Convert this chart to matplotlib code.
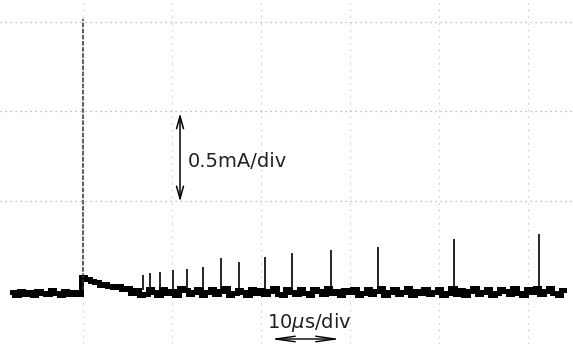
import numpy as np
import matplotlib.pyplot as plt

# scope trace, sampled every 0.5 us starting at -8 us (mA)
t_start = -8.0
t_step = 0.5
trace_pre = [-0.012, -0.026, -0.004, -0.02, -0.01, -0.028, -0.006, -0.018,
             -0.024, -0.002, -0.016, -0.03, -0.008, -0.022, -0.012, -0.02]
trace_decay = [0.075, 0.06, 0.05, 0.045, 0.03, 0.035, 0.02, 0.015, 0.02, 0.005]
trace_post = [0.01, -0.015, 0.0, -0.025, -0.02, 0.005, -0.01, -0.028, 0.008, -0.015,
              -0.005, -0.025, 0.01, 0.0, -0.022, -0.012, 0.006, -0.028, -0.01, 0.004,
              -0.02, -0.006, 0.01, -0.026, -0.015, 0.002, -0.012, -0.03, 0.008, -0.018,
              0.0, -0.024, -0.008, 0.012, -0.02, -0.028, 0.004, -0.01, -0.022, 0.008,
              -0.014, -0.03, 0.006, -0.004, -0.024, 0.01, -0.018, -0.008, -0.028, 0.002,
              -0.012, 0.008, -0.026, -0.016, 0.004, -0.022, -0.006, 0.012, -0.03, -0.01,
              0.006, -0.02, -0.012, 0.01, -0.028, -0.004, -0.018, 0.008, -0.024, -0.01,
              0.004, -0.03, -0.014, 0.01, -0.02, 0.0, -0.026, -0.008, 0.012, -0.022,
              -0.012, 0.006, -0.028, -0.018, 0.008, -0.006, -0.024, 0.01, -0.016, -0.03,
              0.004, -0.012, 0.01, -0.022, -0.006, 0.012, -0.018, -0.028, 0.0]

# first (large) pulse
main_t = 0.0
main_peak = 1.52

# later pulses: time (us) and height (mA)
spike_t = [6.7, 7.5, 8.7, 10.1, 11.7, 13.5, 15.5, 17.5, 20.4, 23.5, 27.9, 33.1, 41.7, 51.2]
spike_h = [0.085, 0.095, 0.10, 0.11, 0.12, 0.13, 0.18, 0.155, 0.185, 0.205, 0.225, 0.24, 0.285, 0.315]

trace = trace_pre + trace_decay + trace_post
t = t_start + t_step * np.arange(len(trace))

fig = plt.figure(figsize=(5.73, 3.44), dpi=100)
ax = fig.add_axes([0, 0, 1, 1])
ax.set_xlim(-9.33, 55.06)
ax.set_ylim(-0.302, 1.624)
ax.axis('off')

# graticule
for gx in range(0, 60, 10):
    ax.axvline(gx, color='#b8b8b8', lw=0.8, ls=(0, (1, 5)), zorder=1)
for gy in [0.5, 1.0, 1.5]:
    ax.axhline(gy, color='#a8a8a8', lw=0.9, ls=(0, (1, 3)), zorder=1)

ax.plot(t, trace, drawstyle='steps-mid', color='black', lw=3.6,
        solid_joinstyle='miter', zorder=3)
ax.vlines(main_t, 0, main_peak, color='#333333', lw=1.1, ls=(0, (3, 1)), zorder=3)
ax.vlines(spike_t, 0, spike_h, color='black', lw=1.2, zorder=3)

# scale markers
ax.annotate('', xy=(10.9, 1.005), xytext=(10.9, 0.48),
            arrowprops=dict(arrowstyle='<->,head_length=0.9,head_width=0.25', lw=1.1, color='black'))
ax.text(11.8, 0.717, '0.5mA/div', fontsize=14, va='center', ha='left', color='#222222')

ax.text(25.4, -0.18, '10$\\mu$s/div', fontsize=14, va='center', ha='center', color='#222222')
ax.annotate('', xy=(20.8, -0.274), xytext=(29.2, -0.274),
            arrowprops=dict(arrowstyle='<->,head_length=1.4,head_width=0.2', lw=1.0, color='black'))

fig.savefig('out.png', dpi=100)
